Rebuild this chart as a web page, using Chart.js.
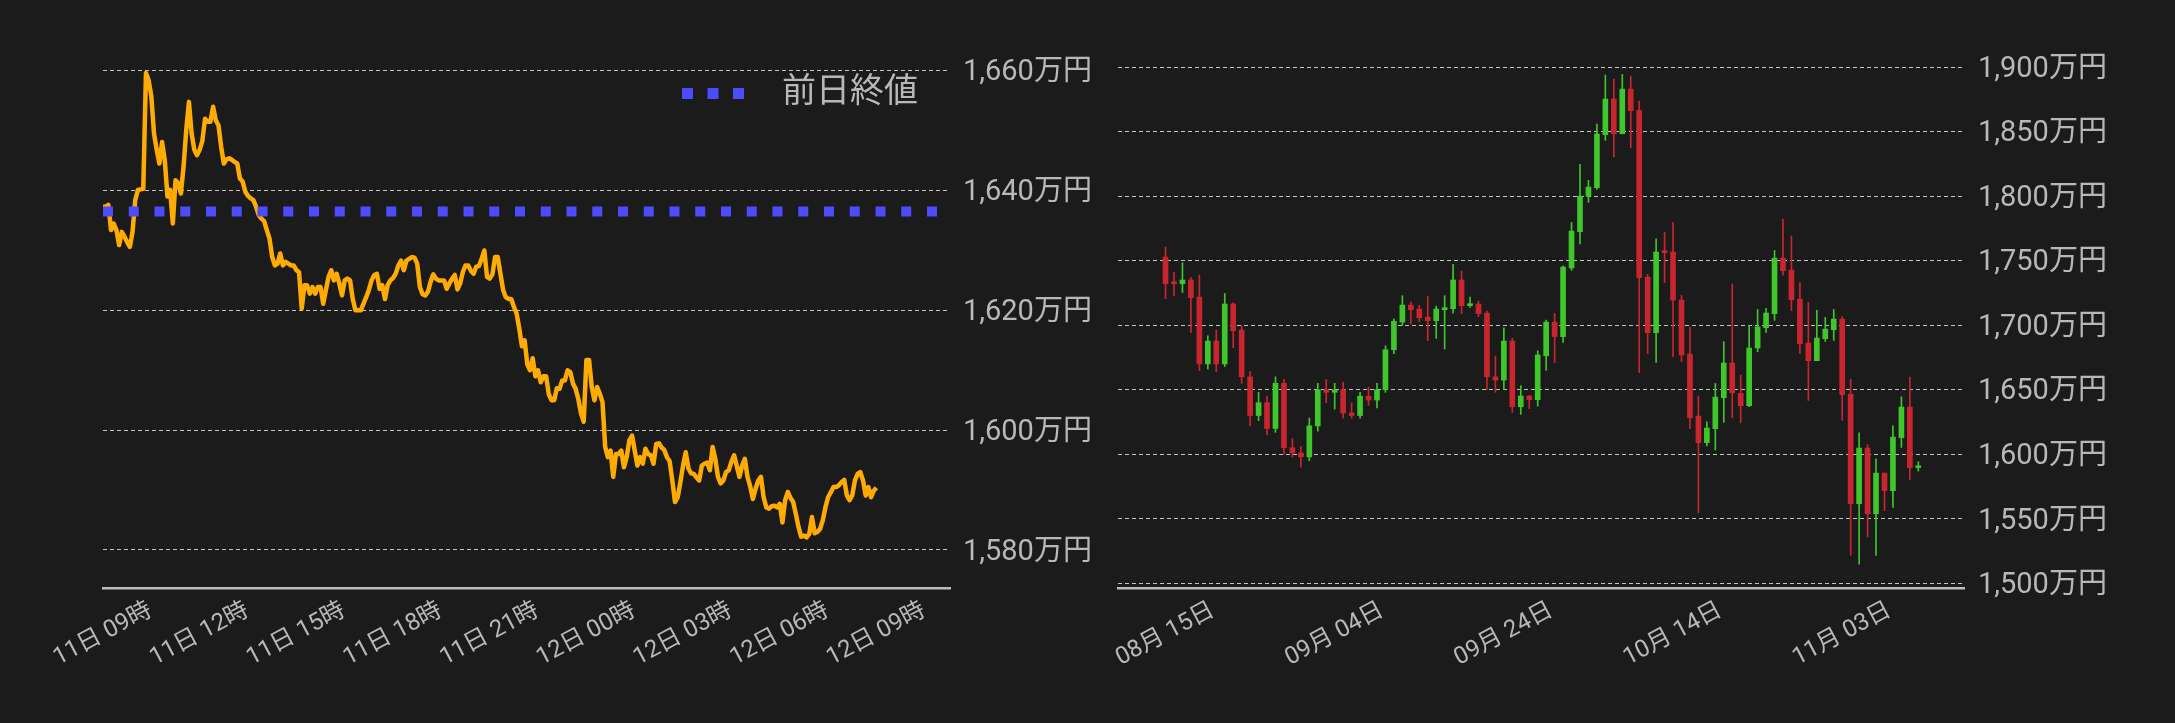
<!DOCTYPE html>
<html>
<head>
<meta charset="utf-8">
<title>ビットコイン 価格チャート</title>
<script src="https://cdn.jsdelivr.net/npm/chart.js"></script>
<style>
  html, body { margin: 0; padding: 0; background: #1b1b1b; }
  #wrap { position: relative; width: 2175px; height: 723px; }
  #intradayChart { position: absolute; left: 0; top: 0; }
  #dailyChart { position: absolute; left: 1100px; top: 0; }
</style>
</head>
<body>
<div id="wrap">
  <canvas id="intradayChart" width="1100" height="723"></canvas>
  <canvas id="dailyChart" width="1075" height="723"></canvas>
</div>

<script>
  // ---- 当日チャート (5分足, 11日09時から) ----
  const hourTickMinutes = [0, 180, 360, 540, 720, 900, 1080, 1260, 1440];
  const hourTickLabels = ['11日 09時', '11日 12時', '11日 15時', '11日 18時', '11日 21時',
                          '12日 00時', '12日 03時', '12日 06時', '12日 09時'];
  const stepMinutes = 5;
  const prevClose = 1636.5;
  const intradayValues = [
    1637.3, 1637.3, 1637.6, 1633.4, 1634.5, 1633.4, 1630.9, 1633.1, 1632.3, 1631.4, 1630.6, 1633.1, 1638.4, 1640.1, 1640.2, 1640.3,
    1659.6, 1658.4, 1655.7, 1649.5, 1646.8, 1644.5, 1648.1, 1645.1, 1639.0, 1640.1, 1634.5, 1641.7, 1641.2, 1639.5, 1644.0, 1650.1,
    1654.8, 1649.5, 1646.8, 1645.9, 1646.8, 1648.3, 1652.0, 1651.5, 1651.5, 1654.0, 1651.7, 1650.9, 1647.3, 1644.5, 1645.2, 1645.4,
    1645.1, 1644.8, 1644.5, 1642.0, 1641.5, 1639.8, 1639.1, 1638.7, 1638.4, 1637.3, 1635.9, 1635.3, 1634.9, 1633.4, 1632.0, 1628.9,
    1627.5, 1627.8, 1629.5, 1627.5, 1628.1, 1627.8, 1627.5, 1627.5, 1626.7, 1626.4, 1620.3, 1624.2, 1624.2, 1622.8, 1623.9, 1622.8,
    1623.9, 1623.9, 1621.1, 1623.4, 1625.6, 1626.7, 1625.0, 1626.1, 1624.5, 1622.5, 1625.0, 1625.3, 1625.0, 1621.9, 1620.0, 1620.0,
    1620.0, 1621.1, 1622.2, 1623.4, 1625.0, 1625.9, 1626.1, 1623.6, 1624.2, 1621.9, 1624.2, 1625.0, 1625.4, 1626.1, 1627.5, 1628.3,
    1626.7, 1628.3, 1628.6, 1628.9, 1628.8, 1627.8, 1623.9, 1622.7, 1622.5, 1623.1, 1624.8, 1626.0, 1625.3, 1625.0, 1625.0, 1625.0,
    1623.6, 1624.5, 1625.3, 1625.9, 1623.5, 1624.5, 1626.4, 1627.5, 1627.5, 1626.6, 1626.1, 1627.3, 1627.4, 1628.6, 1630.0, 1625.6,
    1625.3, 1626.0, 1628.9, 1628.9, 1626.1, 1623.4, 1622.2, 1621.9, 1621.9, 1620.6, 1619.5,
    1617.0, 1614.0, 1615.0, 1611.0, 1610.0, 1612.0, 1609.0, 1610.0, 1608.0, 1609.0, 1609.0, 1606.0, 1605.0, 1605.0, 1607.0,
    1606.9, 1608.3, 1608.3, 1610.0, 1609.7, 1607.8, 1606.9, 1605.2, 1602.8, 1601.4,
    1611.7, 1611.7, 1607.2, 1605.0, 1607.2, 1606.1, 1604.7, 1597.2, 1595.5, 1596.6,
    1592.2, 1596.0, 1596.0, 1596.6, 1593.8, 1595.5, 1598.3, 1599.1, 1596.6, 1594.1,
    1595.5, 1594.4, 1596.9, 1596.0, 1595.8, 1594.4, 1597.7, 1597.8, 1597.1, 1596.7,
    1595.5, 1594.8, 1591.6, 1588.0, 1588.8, 1591.3, 1594.1, 1596.3, 1593.6, 1592.8,
    1592.7, 1592.1, 1591.6, 1594.1, 1594.4, 1594.6, 1593.3, 1597.2, 1595.2, 1592.2,
    1591.1, 1591.6, 1593.0, 1593.3, 1594.7, 1595.8, 1594.0, 1592.2, 1594.1, 1595.2,
    1592.2, 1590.6, 1588.5, 1590.2, 1591.6, 1592.2, 1588.8, 1587.1, 1586.9, 1587.3,
    1587.4, 1587.1, 1587.7, 1584.6, 1588.3, 1589.7, 1588.7, 1588.0, 1586.0, 1583.8,
    1582.2, 1582.4, 1582.1, 1582.7, 1585.5, 1582.8, 1583.0, 1583.5, 1584.9, 1587.1,
    1588.8, 1589.6, 1590.5, 1590.5, 1590.8, 1591.3, 1591.7, 1589.1, 1588.3, 1589.1,
    1591.6, 1592.7, 1593.0, 1591.6, 1589.1, 1590.5, 1588.8, 1589.9, 1590.4
  ];

  // ---- 日足 (08月15日 〜 11月12日) ----
  const dayTickIndex = [0, 20, 40, 60, 80];
  const dayTickLabels = ['08月 15日', '09月 04日', '09月 24日', '10月 14日', '11月 03日'];
  const candleOpen = [
    1752.8, 1732.6, 1732.1, 1735.0, 1721.8, 1670.0, 1687.7, 1670.0, 1716.4, 1696.2,
    1660.0, 1630.0, 1640.0, 1620.0, 1655.0, 1605.0, 1601.0, 1598.0, 1622.0, 1650.0,
    1648.0, 1650.0, 1632.0, 1630.0, 1645.0, 1642.0, 1650.0, 1681.0, 1702.4, 1715.6,
    1712.5, 1706.3, 1703.5, 1712.0, 1712.8, 1735.0, 1715.1, 1716.4, 1709.4, 1660.0,
    1657.5, 1687.7, 1636.8, 1645.1, 1642.3, 1676.3, 1702.4, 1691.1, 1744.3, 1772.4,
    1800.0, 1806.5, 1847.6, 1875.2, 1848.3, 1882.9, 1866.2, 1737.3, 1694.2, 1756.7,
    1756.7, 1719.5, 1677.6, 1629.6, 1609.0, 1619.8, 1643.8, 1670.7, 1647.2, 1637.6,
    1682.3, 1698.0, 1708.9, 1752.0, 1742.7, 1720.2, 1686.2, 1672.5, 1689.5, 1696.5,
    1704.7, 1646.6, 1561.7, 1604.8, 1553.9, 1585.4, 1571.8, 1612.8, 1636.6, 1589.6
  ];
  const candleHigh = [
    1760.5, 1740.9, 1748.4, 1737.0, 1738.9, 1691.8, 1696.2, 1724.6, 1717.4, 1699.3,
    1664.0, 1648.0, 1645.0, 1660.0, 1658.0, 1612.0, 1606.0, 1628.0, 1655.0, 1658.0,
    1655.0, 1656.0, 1640.0, 1648.0, 1652.0, 1655.0, 1684.0, 1705.0, 1722.8, 1717.9,
    1715.4, 1722.3, 1714.8, 1722.8, 1747.1, 1741.9, 1721.8, 1718.7, 1711.0, 1676.0,
    1698.0, 1689.8, 1653.1, 1645.5, 1680.2, 1704.0, 1709.1, 1746.0, 1779.6, 1824.6,
    1812.2, 1855.8, 1893.8, 1890.7, 1894.3, 1893.0, 1873.6, 1739.4, 1767.0, 1771.9,
    1779.6, 1723.1, 1698.6, 1645.1, 1625.2, 1654.9, 1687.2, 1731.9, 1661.4, 1699.8,
    1712.2, 1713.0, 1757.9, 1782.2, 1769.1, 1733.1, 1717.7, 1711.5, 1706.0, 1712.2,
    1706.6, 1658.0, 1616.7, 1607.4, 1596.5, 1585.6, 1622.1, 1644.6, 1659.8, 1594.2
  ];
  const candleLow = [
    1720.5, 1722.8, 1725.4, 1694.2, 1665.0, 1666.0, 1664.0, 1668.0, 1682.6, 1655.0,
    1622.0, 1626.0, 1615.0, 1617.0, 1600.0, 1598.0, 1590.0, 1595.0, 1618.0, 1640.0,
    1635.0, 1628.0, 1628.0, 1628.0, 1638.0, 1636.0, 1648.0, 1678.0, 1699.8, 1701.1,
    1702.7, 1688.0, 1689.8, 1681.5, 1709.4, 1708.9, 1713.8, 1706.6, 1650.0, 1648.0,
    1650.3, 1632.4, 1630.9, 1635.3, 1637.3, 1665.2, 1670.9, 1686.7, 1742.5, 1762.9,
    1795.2, 1805.2, 1843.2, 1830.5, 1848.3, 1837.5, 1663.2, 1677.9, 1671.2, 1733.1,
    1675.6, 1671.7, 1619.8, 1554.7, 1606.4, 1603.3, 1624.7, 1628.3, 1624.4, 1636.8,
    1679.4, 1694.4, 1703.7, 1738.8, 1711.2, 1678.1, 1641.7, 1672.5, 1687.4, 1688.2,
    1626.3, 1521.7, 1514.9, 1536.1, 1521.7, 1556.3, 1558.8, 1605.3, 1580.3, 1587.0
  ];
  const candleClose = [
    1732.1, 1732.1, 1735.0, 1721.3, 1670.0, 1687.7, 1670.0, 1716.4, 1695.7, 1660.0,
    1630.0, 1640.0, 1620.0, 1655.0, 1605.0, 1601.0, 1598.0, 1622.0, 1650.0, 1648.0,
    1650.0, 1632.0, 1630.0, 1645.0, 1642.0, 1650.0, 1681.0, 1703.0, 1715.6, 1712.0,
    1705.8, 1703.5, 1712.5, 1713.5, 1735.0, 1715.1, 1716.4, 1708.9, 1660.0, 1657.5,
    1687.7, 1636.8, 1645.1, 1642.3, 1676.9, 1702.4, 1691.1, 1745.0, 1772.9, 1800.0,
    1807.0, 1848.1, 1875.2, 1848.3, 1882.9, 1866.2, 1736.8, 1694.2, 1756.7, 1756.2,
    1719.5, 1676.9, 1628.3, 1609.0, 1620.3, 1644.3, 1670.7, 1647.7, 1637.6, 1682.3,
    1698.6, 1709.4, 1752.0, 1742.2, 1719.7, 1685.6, 1672.5, 1690.0, 1697.0, 1704.7,
    1646.1, 1561.7, 1604.8, 1553.9, 1585.4, 1571.8, 1613.3, 1636.6, 1589.6, 1590.9
  ];

  const textColor = '#b8b8b8';
  const gridColor = '#c4c4c4';
  const axisColor = '#bdbdbd';
  const lineColor = '#ffab00';
  const prevColor = '#4b4bff';
  const upColor = '#3ec62a';
  const downColor = '#c9252f';
  const fontFamily = "Roboto, 'Noto Sans CJK JP', sans-serif";

  Chart.defaults.font.family = fontFamily;
  Chart.defaults.color = textColor;

  function manYen(v) {
    return String(v).replace(/\B(?=(\d{3})+(?!\d))/g, ',') + '万円';
  }

  // 前日終値の凡例をチャート内右上に描く
  const prevCloseLegend = {
    id: 'prevCloseLegend',
    afterDatasetsDraw(chart) {
      const ds = chart.data.datasets[0];
      const { ctx, chartArea } = chart;
      const y = chartArea.top + 43.5;
      const x0 = chartArea.right - 268;
      ctx.save();
      ctx.strokeStyle = ds.borderColor;
      ctx.lineWidth = 11;
      ctx.setLineDash([11, 14.5]);
      ctx.beginPath();
      ctx.moveTo(x0, y);
      ctx.lineTo(x0 + 62, y);
      ctx.stroke();
      ctx.setLineDash([]);
      ctx.fillStyle = textColor;
      ctx.font = '34px ' + fontFamily;
      ctx.textBaseline = 'middle';
      ctx.fillText(ds.label, x0 + 100, y);
      ctx.restore();
    }
  };

  // x軸ラベル: 目盛り位置を中心に斜めに描く
  const centeredTickLabels = {
    id: 'centeredTickLabels',
    afterDraw(chart, args, opts) {
      const scale = chart.scales.x;
      const { ctx } = chart;
      ctx.save();
      ctx.font = '24px ' + fontFamily;
      ctx.fillStyle = textColor;
      ctx.textAlign = 'center';
      ctx.textBaseline = 'middle';
      scale.ticks.forEach((t, i) => {
        ctx.save();
        ctx.translate(scale.getPixelForValue(t.value), scale.top + 46.5);
        ctx.rotate(-28 * Math.PI / 180);
        ctx.fillText(opts.labels[i], 0, 0);
        ctx.restore();
      });
      ctx.restore();
    }
  };

  function bottomAxis(extra) {
    return Object.assign({
      type: 'linear',
      grid: { display: false },
      border: { display: true, color: axisColor, width: 2.5 },
      ticks: { display: false, autoSkip: false },
      afterFit: s => { s.height = 135; s.paddingLeft = 0; s.paddingRight = 0; }
    }, extra);
  }

  function rightAxis(extra, width) {
    return Object.assign({
      position: 'right',
      grid: { color: gridColor, lineWidth: 1, drawTicks: false },
      border: { display: false, dash: [4, 3] },
      afterFit: s => { s.width = width; }
    }, extra);
  }

  // ---- 当日チャート ----
  new Chart(document.getElementById('intradayChart'), {
    type: 'line',
    data: {
      datasets: [
        {
          label: '前日終値',
          data: [{ x: 0, y: prevClose }, { x: 1577, y: prevClose }],
          borderColor: prevColor,
          borderWidth: 10,
          borderDash: [10, 15.75],
          borderCapStyle: 'butt',
          pointRadius: 0
        },
        {
          label: '価格',
          data: intradayValues.map((v, i) => ({ x: i * stepMinutes, y: v })),
          borderColor: lineColor,
          borderWidth: 4.5,
          borderJoinStyle: 'round',
          pointRadius: 0,
          tension: 0
        }
      ]
    },
    options: {
      responsive: false,
      animation: false,
      events: [],
      layout: { padding: { left: 103, top: 50, right: 0, bottom: 0 } },
      plugins: {
        legend: { display: false },
        tooltip: { enabled: false },
        centeredTickLabels: { labels: hourTickLabels }
      },
      scales: {
        x: bottomAxis({
          min: 0,
          max: 1577,
          afterBuildTicks: s => { s.ticks = hourTickMinutes.map(v => ({ value: v })); }
        }),
        y: rightAxis({
          min: 1573.65,
          max: 1663.46,
          ticks: { stepSize: 20, includeBounds: false, padding: 13, labelOffset: 2.5,
                   color: textColor, font: { size: 29 }, callback: v => manYen(v) }
        }, 150)
      }
    },
    plugins: [prevCloseLegend, centeredTickLabels]
  });

  // ---- 日足チャート ----
  const candleColors = candleOpen.map((o, i) => candleClose[i] >= o ? upColor : downColor);
  new Chart(document.getElementById('dailyChart'), {
    type: 'bar',
    data: {
      datasets: [
        {
          label: '実体',
          data: candleOpen.map((o, i) => ({ x: i, y: [o, candleClose[i]] })),
          backgroundColor: candleColors,
          barThickness: 5,
          minBarLength: 2,
          grouped: false,
          order: 0
        },
        {
          label: 'ヒゲ',
          data: candleLow.map((l, i) => ({ x: i, y: [l, candleHigh[i]] })),
          backgroundColor: candleColors,
          barThickness: 1,
          grouped: false,
          order: 1
        }
      ]
    },
    options: {
      responsive: false,
      animation: false,
      events: [],
      layout: { padding: { left: 18, top: 50, right: 0, bottom: 0 } },
      plugins: {
        legend: { display: false },
        tooltip: { enabled: false },
        centeredTickLabels: { labels: dayTickLabels }
      },
      scales: {
        x: bottomAxis({
          min: -5.62,
          max: 94.4,
          offset: false,
          afterBuildTicks: s => { s.ticks = dayTickIndex.map(v => ({ value: v })); }
        }),
        y: rightAxis({
          min: 1496.4,
          max: 1913.2,
          ticks: { stepSize: 50, includeBounds: false, padding: 14, labelOffset: 2.5,
                   color: textColor, font: { size: 29 }, callback: v => manYen(v) }
        }, 211)
      }
    },
    plugins: [centeredTickLabels]
  });
</script>
</body>
</html>
